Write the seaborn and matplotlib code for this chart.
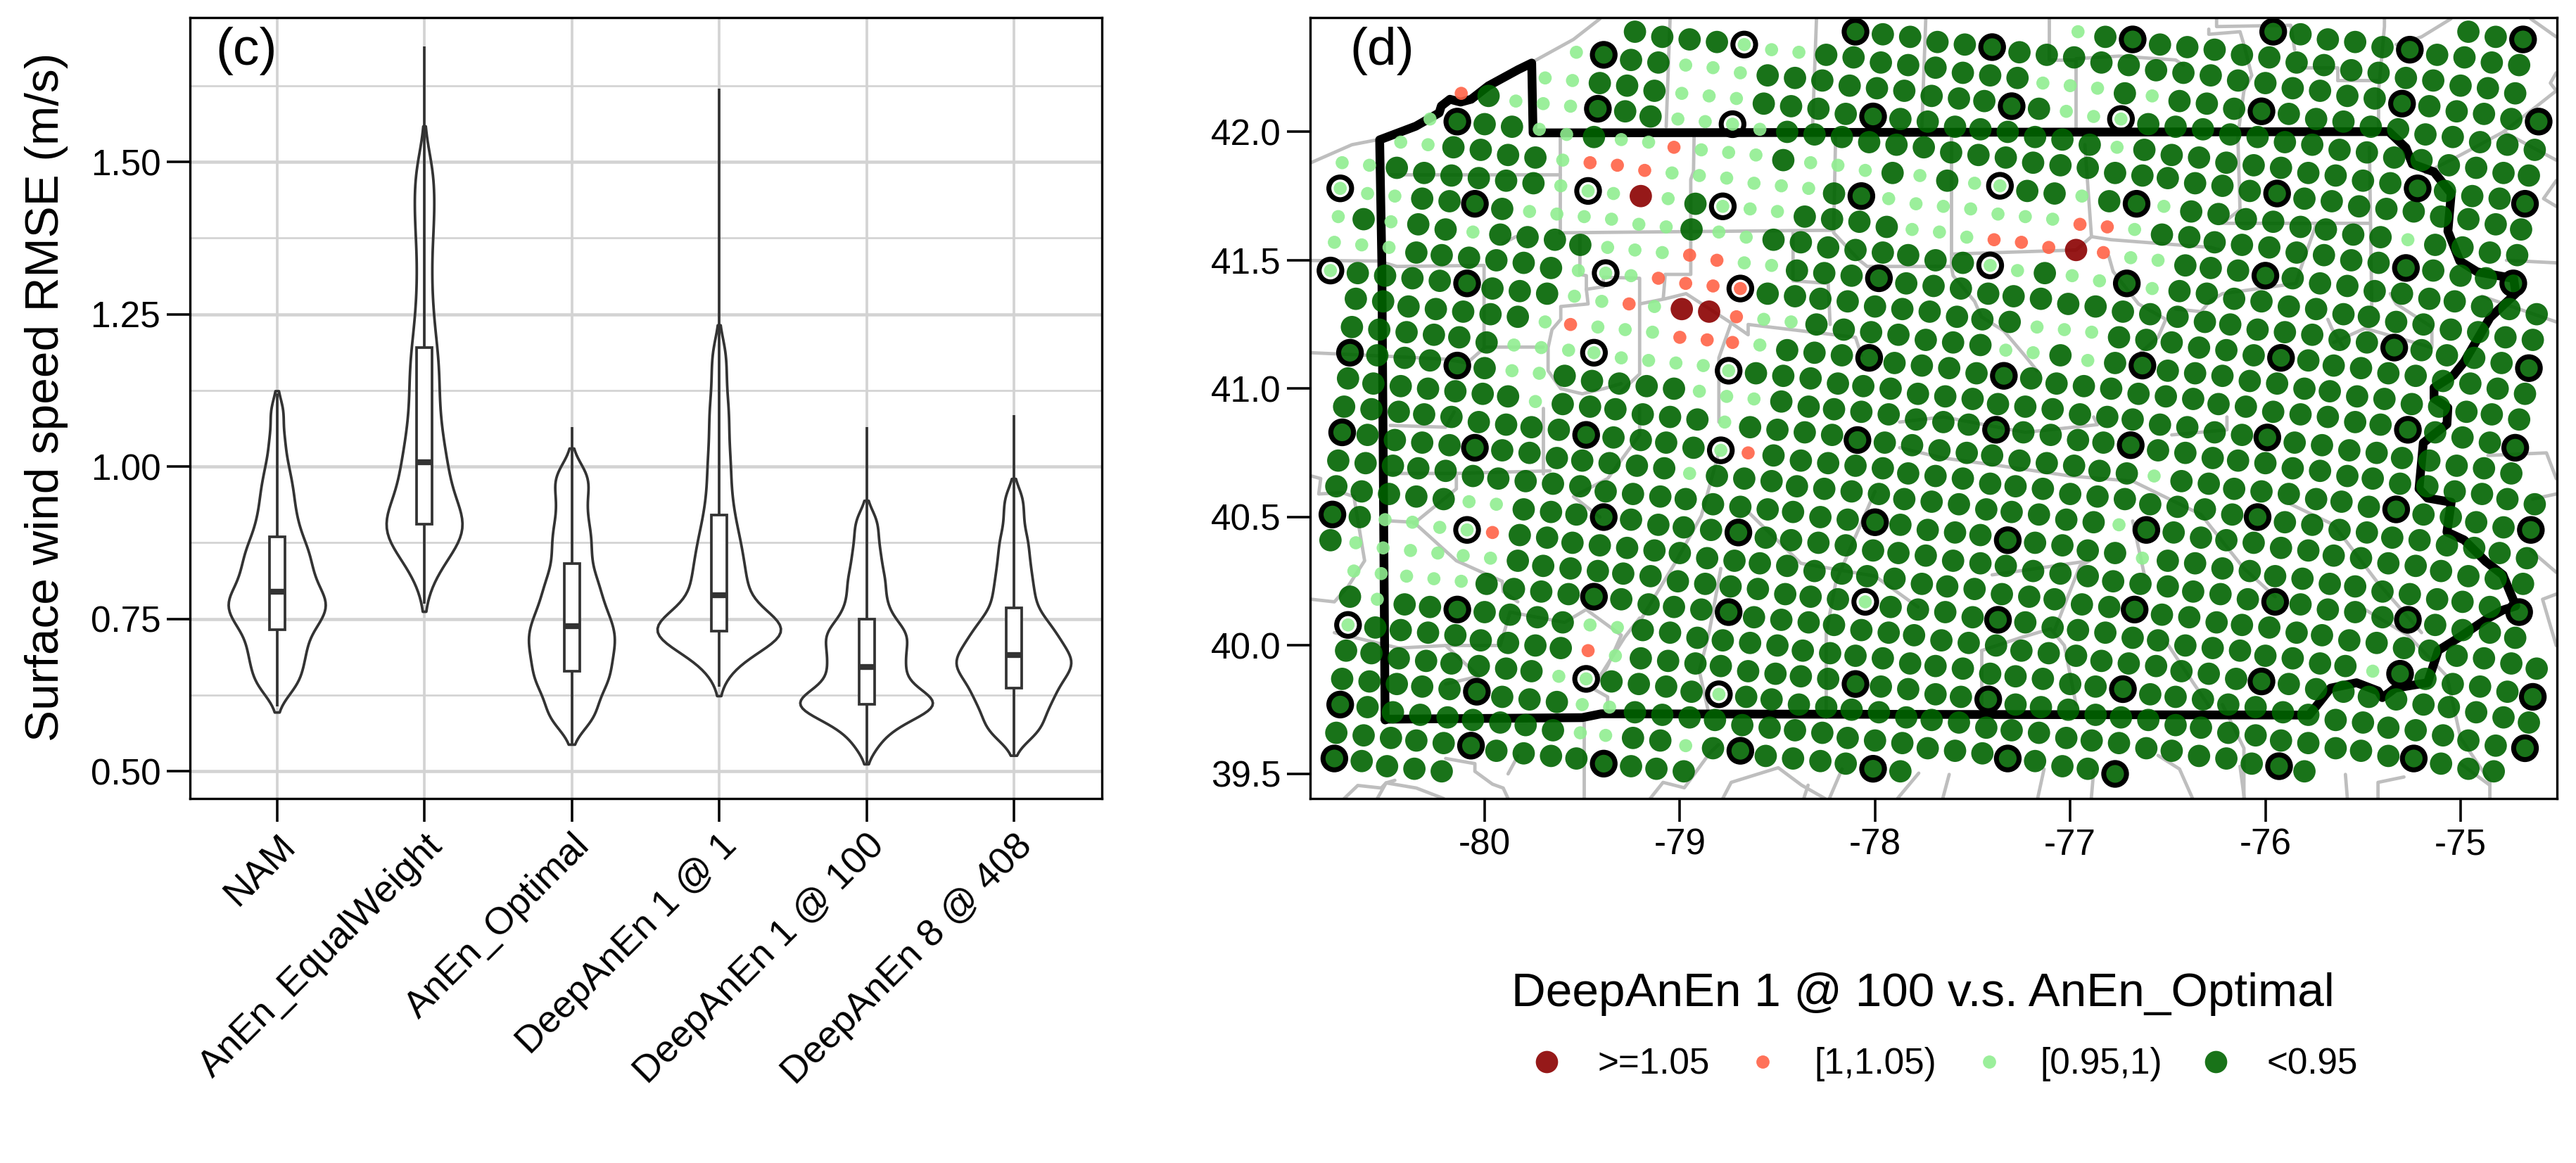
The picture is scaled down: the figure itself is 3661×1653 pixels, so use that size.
"""Wind speed RMSE violins (c) and map of the RMSE ratio over Pennsylvania (d)."""

import matplotlib
matplotlib.use("Agg")
import matplotlib.pyplot as plt
from matplotlib.lines import Line2D
from matplotlib.ticker import FixedLocator
import pandas as pd
import seaborn as sns

sns.set_style("white")
plt.rcParams["font.family"] = ["Liberation Sans", "DejaVu Sans"]
plt.rcParams["axes.unicode_minus"] = False
plt.rcParams["text.color"] = "black"
plt.rcParams["axes.labelcolor"] = "black"
plt.rcParams["xtick.color"] = "black"
plt.rcParams["ytick.color"] = "black"

# panel (c): values, quartiles from the boxes
models = ["NAM", "AnEn_EqualWeight", "AnEn_Optimal", "DeepAnEn 1 @ 1", "DeepAnEn 1 @ 100", "DeepAnEn 8 @ 408"]
rmse_nam = [.63,.645,.655,.668,.68,.69,.70,.71,.72,.73,.74,.745,.75,.757,.765,.77,.775,.78,.785,.79,.80,.806,.815,.822,.83,.84,.848,.857,.866,.875,.888,.90,.915,.93,.948,.965,.985,1.01,1.045,1.09]
rmse_equal = [.82,.84,.855,.868,.877,.884,.89,.895,.90,.904,.908,.914,.922,.932,.943,.955,.967,.98,.99,1.0,1.015,1.03,1.045,1.06,1.08,1.10,1.12,1.14,1.16,1.18,1.20,1.23,1.26,1.30,1.34,1.38,1.41,1.44,1.47,1.50]
rmse_optimal = [.578,.585,.597,.61,.622,.633,.642,.65,.656,.662,.672,.68,.687,.694,.701,.708,.715,.722,.728,.734,.742,.75,.757,.765,.775,.785,.795,.805,.816,.828,.845,.86,.875,.89,.905,.925,.945,.965,.98,.995]
rmse_deep1 = [.665,.685,.695,.703,.71,.715,.72,.724,.727,.729,.731,.734,.737,.74,.744,.749,.755,.763,.772,.783,.795,.805,.815,.825,.838,.85,.862,.875,.89,.905,.925,.945,.97,.995,1.02,1.05,1.08,1.11,1.15,1.19]
rmse_deep100 = [.54,.562,.573,.582,.589,.595,.60,.604,.607,.609,.612,.616,.62,.625,.63,.636,.643,.651,.66,.667,.675,.682,.69,.698,.706,.713,.72,.727,.733,.74,.752,.765,.778,.795,.81,.825,.845,.865,.89,.915]
rmse_deep408 = [.555,.565,.575,.585,.595,.605,.613,.62,.627,.634,.642,.648,.654,.66,.665,.67,.675,.68,.684,.687,.694,.70,.706,.712,.718,.725,.732,.74,.748,.757,.772,.785,.80,.815,.832,.85,.87,.89,.92,.95]
rmse_lowest = [.606, .775, .543, .639, .511, .524]
rmse_highest = [1.12, 1.69, 1.065, 1.62, 1.065, 1.085]

# panel (d): one row of grid points per block, g <0.95, p [0.95,1), o [1,1.05), r >=1.05
# upper case letters carry the black ring
lon_00 = [-74.96,-74.82,-74.68]
lat_00 = [42.39,42.37,42.36]
cls_00 = "ggG"
lon_01 = [-75.96,-75.82,-75.68,-75.54,-75.40,-75.26,-75.12,-74.98,-74.84,-74.70]
lat_01 = [42.39,42.38,42.36,42.35,42.33,42.32,42.30,42.29,42.27,42.26]
cls_01 = "GggggGgggg"
lon_02 = [-76.96,-76.82,-76.68,-76.54,-76.40,-76.26,-76.12,-75.98,-75.84,-75.70,-75.56,-75.42,-75.28,-75.14,-75.00,-74.86,-74.72]
lat_02 = [42.39,42.37,42.36,42.34,42.33,42.32,42.30,42.29,42.27,42.26,42.24,42.23,42.21,42.20,42.18,42.17,42.15]
cls_02 = "pgG" + "g" * 14
lon_03 = [-78.10,-77.96,-77.82,-77.68,-77.54,-77.40,-77.26,-77.12,-76.98,-76.84,-76.70,-76.56,-76.42,-76.28,-76.14,-76.00,-75.86,-75.72,-75.58,-75.44,-75.30,-75.16,-75.02,-74.88,-74.74,-74.60]
lat_03 = [42.39,42.38,42.37,42.35,42.34,42.33,42.31,42.30,42.29,42.27,42.26,42.24,42.23,42.22,42.20,42.19,42.17,42.16,42.14,42.13,42.11,42.10,42.08,42.07,42.05,42.04]
cls_03 = "GggggG" + "g" * 14 + "G" + "gggg" + "G"
lon_04 = [-79.23,-79.09,-78.95,-78.81,-78.67,-78.53,-78.39,-78.25,-78.11,-77.97,-77.83,-77.69,-77.55,-77.41,-77.27,-77.14,-77.00,-76.86,-76.72,-76.58,-76.44,-76.30,-76.16,-76.02,-75.88,-75.74,-75.60,-75.46,-75.32,-75.18,-75.04,-74.90,-74.76,-74.62]
lat_04 = [42.39,42.37,42.36,42.35,42.34,42.32,42.31,42.30,42.29,42.27,42.26,42.25,42.23,42.22,42.21,42.19,42.18,42.17,42.15,42.14,42.12,42.11,42.09,42.08,42.07,42.05,42.04,42.02,42.01,41.99,41.98,41.96,41.95,41.93]
cls_04 = "gggg" + "Ppp" + "g" * 8 + "ppp" + "g" + "p" + "ggg" + "G" + "g" * 10
lon_05 = [-79.53,-79.39,-79.25,-79.11,-78.97,-78.83,-78.69,-78.55,-78.41,-78.27,-78.13,-77.99,-77.85,-77.71,-77.57,-77.44,-77.30,-77.16,-77.02,-76.88,-76.74,-76.60,-76.46,-76.32,-76.18,-76.04,-75.90,-75.76,-75.62,-75.48,-75.34,-75.20,-75.06,-74.92,-74.78,-74.65]
lat_05 = [42.31,42.30,42.28,42.27,42.26,42.25,42.23,42.22,42.21,42.20,42.18,42.17,42.16,42.14,42.13,42.12,42.10,42.09,42.08,42.06,42.05,42.03,42.02,42.01,41.99,41.98,41.96,41.95,41.93,41.92,41.90,41.89,41.87,41.86,41.84,41.83]
cls_05 = "pGgg" + "ppp" + "g" * 9 + "G" + "g" + "pp" + "P" + "g" * 15
lon_06 = [-79.69,-79.55,-79.41,-79.27,-79.13,-78.99,-78.85,-78.71,-78.57,-78.43,-78.29,-78.15,-78.01,-77.87,-77.73,-77.59,-77.46,-77.32,-77.18,-77.04,-76.90,-76.76,-76.62,-76.48,-76.34,-76.20,-76.06,-75.92,-75.78,-75.64,-75.50,-75.36,-75.22,-75.08,-74.94,-74.80,-74.67]
lat_06 = [42.21,42.20,42.19,42.18,42.16,42.15,42.14,42.13,42.11,42.10,42.09,42.07,42.06,42.05,42.04,42.02,42.01,42.00,41.98,41.97,41.95,41.94,41.93,41.91,41.90,41.88,41.87,41.86,41.84,41.83,41.81,41.80,41.78,41.77,41.75,41.74,41.72]
cls_06 = "pp" + "ggg" + "ppp" + "gggg" + "G" + "g" * 8 + "p" + "g" * 10 + "G" + "ggg" + "G"
lon_07 = [-80.12,-79.98,-79.84,-79.70,-79.56,-79.42,-79.28,-79.15,-79.01,-78.87,-78.73,-78.59,-78.45,-78.31,-78.17,-78.03,-77.89,-77.75,-77.61,-77.47,-77.33,-77.19,-77.05,-76.91,-76.77,-76.63,-76.50,-76.36,-76.22,-76.08,-75.94,-75.80,-75.66,-75.52,-75.38,-75.24,-75.10,-74.96,-74.82,-74.69]
lat_07 = [42.15,42.14,42.12,42.11,42.10,42.09,42.08,42.06,42.05,42.04,42.03,42.01,42.00,41.99,41.98,41.96,41.95,41.94,41.92,41.91,41.90,41.88,41.87,41.86,41.84,41.83,41.82,41.80,41.79,41.77,41.76,41.74,41.73,41.71,41.70,41.69,41.67,41.66,41.64,41.62]
cls_07 = "ogppp" + "Ggg" + "ppPp" + "g" * 18 + "G" + "g" * 9
lon_08 = [-80.28,-80.14,-80.00,-79.86,-79.72,-79.58,-79.44,-79.30,-79.16,-79.03,-78.89,-78.75,-78.61,-78.47,-78.33,-78.19,-78.05,-77.91,-77.77,-77.63,-77.49,-77.36,-77.22,-77.08,-76.94,-76.80,-76.66,-76.52,-76.38,-76.24,-76.10,-75.96,-75.82,-75.69,-75.55,-75.41,-75.27,-75.13,-74.99,-74.85,-74.71]
lat_08 = [42.05,42.04,42.03,42.02,42.01,41.99,41.98,41.97,41.96,41.94,41.93,41.92,41.91,41.89,41.88,41.87,41.85,41.84,41.83,41.81,41.80,41.79,41.77,41.76,41.75,41.73,41.72,41.71,41.69,41.68,41.66,41.65,41.63,41.62,41.60,41.59,41.58,41.56,41.55,41.53,41.52]
cls_08 = "pGgg" + "ppg" + "ppo" + "ppp" + "g" + "ppp" + "g" + "p" + "g" + "pP" + "gg" + "p" + "g" + "G" + "p" + "g" * 8 + "p" + "gggg"
lon_09 = [-80.43,-80.29,-80.16,-80.02,-79.88,-79.74,-79.60,-79.46,-79.32,-79.18,-79.04,-78.90,-78.76,-78.62,-78.48,-78.34,-78.21,-78.07,-77.93,-77.79,-77.65,-77.51,-77.37,-77.23,-77.09,-76.95,-76.81,-76.67,-76.53,-76.39,-76.26,-76.12,-75.98,-75.84,-75.70,-75.56,-75.42,-75.28,-75.14,-75.00,-74.87,-74.73]
lat_09 = [41.96,41.95,41.94,41.93,41.91,41.90,41.89,41.88,41.87,41.85,41.84,41.83,41.82,41.80,41.79,41.78,41.76,41.75,41.74,41.72,41.71,41.70,41.68,41.67,41.66,41.64,41.63,41.62,41.60,41.59,41.57,41.56,41.55,41.53,41.52,41.50,41.49,41.47,41.46,41.44,41.43,41.41]
cls_09 = "pp" + "gggg" + "p" + "ooo" + "p" * 6 + "gG" + "p" * 7 + "oo" + "p" + "g" * 9 + "G" + "ggg" + "G"
lon_10 = [-80.73,-80.59,-80.45,-80.31,-80.17,-80.03,-79.89,-79.75,-79.61,-79.47,-79.34,-79.20,-79.06,-78.92,-78.78,-78.64,-78.50,-78.36,-78.22,-78.08,-77.94,-77.81,-77.67,-77.53,-77.39,-77.25,-77.11,-76.97,-76.83,-76.69,-76.55,-76.41,-76.28,-76.14,-76.00,-75.86,-75.72,-75.58,-75.44,-75.30,-75.16,-75.03,-74.89,-74.75,-74.61]
lat_10 = [41.88,41.87,41.86,41.84,41.83,41.82,41.81,41.80,41.79,41.77,41.76,41.75,41.74,41.72,41.71,41.70,41.69,41.67,41.66,41.65,41.63,41.62,41.61,41.59,41.58,41.57,41.55,41.54,41.53,41.51,41.50,41.48,41.47,41.46,41.44,41.43,41.41,41.40,41.38,41.37,41.35,41.34,41.32,41.31,41.29]
cls_10 = "pp" + "g" * 6 + "pPp" + "r" + "p" + "g" + "Ppp" + "gggg" + "ppp" + "ooo" + "r" + "o" + "pp" + "ggg" + "G" + "g" * 10
lon_11 = [-80.74,-80.60,-80.46,-80.32,-80.18,-80.05,-79.91,-79.77,-79.63,-79.49,-79.35,-79.21,-79.07,-78.94,-78.80,-78.66,-78.52,-78.38,-78.24,-78.10,-77.96,-77.83,-77.69,-77.55,-77.41,-77.27,-77.13,-76.99,-76.85,-76.71,-76.58,-76.44,-76.30,-76.16,-76.02,-75.88,-75.74,-75.60,-75.47,-75.33,-75.19,-75.05,-74.91,-74.77,-74.63]
lat_11 = [41.78,41.76,41.75,41.74,41.73,41.72,41.70,41.69,41.68,41.67,41.66,41.64,41.63,41.62,41.61,41.59,41.58,41.57,41.55,41.54,41.53,41.52,41.50,41.49,41.48,41.46,41.45,41.44,41.42,41.41,41.39,41.38,41.37,41.35,41.34,41.32,41.31,41.29,41.28,41.26,41.25,41.23,41.22,41.20,41.19]
cls_11 = "Ppp" + "gg" + "G" + "g" + "p" * 6 + "g" + "pp" + "g" * 8 + "Pp" + "g" + "pp" + "G" + "p" + "g" * 14
lon_12 = [-80.75,-80.62,-80.48,-80.34,-80.20,-80.06,-79.92,-79.78,-79.64,-79.51,-79.37,-79.23,-79.09,-78.95,-78.81,-78.67,-78.53,-78.40,-78.26,-78.12,-77.98,-77.84,-77.70,-77.56,-77.42,-77.29,-77.15,-77.01,-76.87,-76.73,-76.59,-76.45,-76.31,-76.18,-76.04,-75.90,-75.76,-75.62,-75.48,-75.34,-75.20,-75.07,-74.93,-74.79,-74.65]
lat_12 = [41.67,41.66,41.65,41.64,41.62,41.61,41.60,41.59,41.58,41.56,41.55,41.54,41.53,41.52,41.50,41.49,41.48,41.46,41.45,41.44,41.43,41.41,41.40,41.39,41.37,41.36,41.35,41.33,41.32,41.30,41.29,41.28,41.26,41.25,41.23,41.22,41.21,41.19,41.18,41.16,41.15,41.13,41.12,41.10,41.08]
cls_12 = "pgp" + "gg" + "p" + "gggg" + "ppp" + "oo" + "pp" + "ggg" + "G" + "g" * 18 + "G" + "gggg" + "G"
lon_13 = [-80.77,-80.63,-80.49,-80.35,-80.22,-80.08,-79.94,-79.80,-79.66,-79.52,-79.38,-79.25,-79.11,-78.97,-78.83,-78.69,-78.55,-78.41,-78.28,-78.14,-78.00,-77.86,-77.72,-77.58,-77.45,-77.31,-77.17,-77.03,-76.89,-76.75,-76.61,-76.48,-76.34,-76.20,-76.06,-75.92,-75.78,-75.65,-75.51,-75.37,-75.23,-75.09,-74.95,-74.81,-74.67]
lat_13 = [41.57,41.56,41.55,41.53,41.52,41.51,41.50,41.49,41.47,41.46,41.45,41.44,41.43,41.41,41.40,41.39,41.37,41.36,41.35,41.34,41.32,41.31,41.30,41.28,41.27,41.26,41.24,41.23,41.22,41.20,41.19,41.18,41.16,41.15,41.13,41.12,41.11,41.09,41.08,41.06,41.05,41.03,41.02,41.00,40.98]
cls_13 = "ppp" + "g" * 6 + "pPp" + "ooo" + "O" + "g" * 10 + "ppp" + "g" * 6 + "G" + "g" * 9
lon_14 = [-80.79,-80.65,-80.51,-80.37,-80.23,-80.09,-79.96,-79.82,-79.68,-79.54,-79.40,-79.26,-79.13,-78.99,-78.85,-78.71,-78.57,-78.43,-78.30,-78.16,-78.02,-77.88,-77.74,-77.60,-77.46,-77.33,-77.19,-77.05,-76.91,-76.77,-76.63,-76.50,-76.36,-76.22,-76.08,-75.94,-75.80,-75.67,-75.53,-75.39,-75.25,-75.11,-74.97,-74.84,-74.70]
lat_14 = [41.46,41.45,41.44,41.43,41.42,41.41,41.39,41.38,41.37,41.36,41.34,41.33,41.32,41.31,41.30,41.28,41.27,41.26,41.25,41.23,41.22,41.21,41.19,41.18,41.17,41.15,41.14,41.13,41.11,41.10,41.09,41.07,41.06,41.05,41.03,41.02,41.00,40.99,40.97,40.96,40.94,40.93,40.91,40.90,40.88]
cls_14 = "P" + "gggg" + "G" + "ggg" + "pp" + "o" + "p" + "rr" + "o" + "pp" + "g" * 7 + "pp" + "g" + "p" + "g" + "G" + "g" * 14
lon_15 = [-80.66,-80.52,-80.39,-80.25,-80.11,-79.97,-79.83,-79.69,-79.56,-79.42,-79.28,-79.14,-79.00,-78.86,-78.73,-78.59,-78.45,-78.31,-78.17,-78.03,-77.90,-77.76,-77.62,-77.48,-77.34,-77.20,-77.07,-76.93,-76.79,-76.65,-76.51,-76.37,-76.24,-76.10,-75.96,-75.82,-75.68,-75.54,-75.41,-75.27,-75.13,-74.99,-74.85,-74.72]
lat_15 = [41.35,41.34,41.32,41.31,41.30,41.29,41.28,41.26,41.25,41.24,41.23,41.22,41.20,41.19,41.18,41.17,41.15,41.14,41.13,41.12,41.10,41.09,41.08,41.06,41.05,41.04,41.02,41.01,41.00,40.98,40.97,40.96,40.94,40.93,40.91,40.90,40.89,40.87,40.86,40.84,40.83,40.81,40.79,40.77]
cls_15 = "g" * 7 + "p" + "o" + "ppp" + "ooo" + "p" + "ggg" + "G" + "gggg" + "G" + "g" * 14 + "G" + "ggg" + "G"
lon_16 = [-80.68,-80.54,-80.40,-80.26,-80.13,-79.99,-79.85,-79.71,-79.57,-79.44,-79.30,-79.16,-79.02,-78.88,-78.75,-78.61,-78.47,-78.33,-78.19,-78.06,-77.92,-77.78,-77.64,-77.50,-77.37,-77.23,-77.09,-76.95,-76.81,-76.68,-76.54,-76.40,-76.26,-76.12,-75.99,-75.85,-75.71,-75.57,-75.43,-75.30,-75.16,-75.02,-74.88,-74.74]
lat_16 = [41.24,41.23,41.22,41.21,41.20,41.18,41.17,41.16,41.15,41.14,41.12,41.11,41.10,41.09,41.07,41.06,41.05,41.04,41.02,41.01,41.00,40.98,40.97,40.96,40.94,40.93,40.92,40.90,40.89,40.88,40.86,40.85,40.83,40.82,40.81,40.79,40.78,40.76,40.75,40.73,40.72,40.70,40.69,40.67]
cls_16 = "g" * 6 + "ppp" + "P" + "pppp" + "P" + "g" * 19 + "G" + "g" * 9
lon_17 = [-80.69,-80.55,-80.41,-80.28,-80.14,-80.00,-79.86,-79.72,-79.59,-79.45,-79.31,-79.17,-79.03,-78.90,-78.76,-78.62,-78.48,-78.34,-78.21,-78.07,-77.93,-77.79,-77.65,-77.52,-77.38,-77.24,-77.10,-76.96,-76.83,-76.69,-76.55,-76.41,-76.27,-76.14,-76.00,-75.86,-75.72,-75.58,-75.45,-75.31,-75.17,-75.03,-74.89,-74.76,-74.62]
lat_17 = [41.14,41.13,41.12,41.11,41.09,41.08,41.07,41.06,41.05,41.03,41.02,41.01,41.00,40.99,40.97,40.96,40.95,40.93,40.92,40.91,40.90,40.88,40.87,40.86,40.84,40.83,40.82,40.80,40.79,40.78,40.76,40.75,40.73,40.72,40.71,40.69,40.68,40.66,40.65,40.63,40.62,40.60,40.59,40.57,40.55]
cls_17 = "Gggg" + "G" + "g" + "pp" + "ggggg" + "ppp" + "g" * 8 + "G" + "gggg" + "G" + "g" * 15
lon_18 = [-80.70,-80.57,-80.43,-80.29,-80.15,-80.01,-79.88,-79.74,-79.60,-79.46,-79.33,-79.19,-79.05,-78.91,-78.77,-78.64,-78.50,-78.36,-78.22,-78.09,-77.95,-77.81,-77.67,-77.53,-77.40,-77.26,-77.12,-76.98,-76.85,-76.71,-76.57,-76.43,-76.29,-76.16,-76.02,-75.88,-75.74,-75.61,-75.47,-75.33,-75.19,-75.05,-74.92,-74.78,-74.64]
lat_18 = [41.04,41.02,41.01,41.00,40.99,40.98,40.97,40.95,40.94,40.93,40.92,40.90,40.89,40.88,40.87,40.85,40.84,40.83,40.82,40.80,40.79,40.78,40.76,40.75,40.74,40.72,40.71,40.70,40.68,40.67,40.66,40.64,40.63,40.61,40.60,40.59,40.57,40.56,40.54,40.53,40.51,40.50,40.48,40.46,40.45]
cls_18 = "g" * 7 + "p" + "g" * 6 + "p" + "gggg" + "G" + "g" * 10 + "p" + "g" * 8 + "G" + "gggg" + "G"
lon_19 = [-80.72,-80.58,-80.44,-80.31,-80.17,-80.03,-79.89,-79.76,-79.62,-79.48,-79.34,-79.20,-79.07,-78.93,-78.79,-78.65,-78.52,-78.38,-78.24,-78.10,-77.96,-77.83,-77.69,-77.55,-77.41,-77.28,-77.14,-77.00,-76.86,-76.72,-76.59,-76.45,-76.31,-76.17,-76.04,-75.90,-75.76,-75.62,-75.48,-75.35,-75.21,-75.07,-74.93,-74.80,-74.66]
lat_19 = [40.93,40.92,40.91,40.90,40.89,40.87,40.86,40.85,40.84,40.82,40.81,40.80,40.79,40.77,40.76,40.75,40.74,40.72,40.71,40.70,40.69,40.67,40.66,40.65,40.63,40.62,40.61,40.59,40.58,40.57,40.55,40.54,40.53,40.51,40.50,40.48,40.47,40.45,40.44,40.42,40.41,40.39,40.38,40.36,40.34]
cls_19 = "g" * 9 + "G" + "gggg" + "Po" + "g" * 18 + "G" + "g" * 10
lon_20 = [-80.73,-80.60,-80.46,-80.32,-80.18,-80.05,-79.91,-79.77,-79.63,-79.50,-79.36,-79.22,-79.08,-78.95,-78.81,-78.67,-78.53,-78.40,-78.26,-78.12,-77.98,-77.85,-77.71,-77.57,-77.43,-77.30,-77.16,-77.02,-76.88,-76.75,-76.61,-76.47,-76.33,-76.20,-76.06,-75.92,-75.78,-75.65,-75.51,-75.37,-75.23,-75.10,-74.96,-74.82,-74.68]
lat_20 = [40.83,40.82,40.80,40.79,40.78,40.77,40.76,40.75,40.73,40.72,40.71,40.70,40.69,40.67,40.66,40.65,40.64,40.62,40.61,40.60,40.59,40.57,40.56,40.55,40.53,40.52,40.51,40.49,40.48,40.47,40.45,40.44,40.42,40.41,40.40,40.38,40.37,40.35,40.34,40.32,40.31,40.29,40.27,40.26,40.24]
cls_20 = "G" + "gggg" + "G" + "g" * 7 + "p" + "g" * 15 + "p" + "G" + "g" * 14
lon_21 = [-80.75,-80.61,-80.47,-80.34,-80.20,-80.06,-79.93,-79.79,-79.65,-79.51,-79.38,-79.24,-79.10,-78.97,-78.83,-78.69,-78.55,-78.42,-78.28,-78.14,-78.00,-77.87,-77.73,-77.59,-77.46,-77.32,-77.18,-77.04,-76.91,-76.77,-76.63,-76.50,-76.36,-76.22,-76.08,-75.95,-75.81,-75.67,-75.54,-75.40,-75.26,-75.12,-74.99,-74.85,-74.70]
lat_21 = [40.72,40.71,40.70,40.69,40.68,40.66,40.65,40.64,40.63,40.62,40.60,40.59,40.58,40.57,40.55,40.54,40.53,40.52,40.50,40.49,40.48,40.47,40.45,40.44,40.43,40.41,40.40,40.39,40.37,40.36,40.34,40.33,40.32,40.30,40.29,40.27,40.26,40.24,40.23,40.21,40.20,40.18,40.17,40.15,40.13]
cls_21 = "g" * 20 + "G" + "gggg" + "G" + "gggg" + "p" + "g" * 13 + "G"
lon_22 = [-80.76,-80.63,-80.49,-80.35,-80.21,-80.08,-79.94,-79.80,-79.66,-79.53,-79.39,-79.25,-79.11,-78.98,-78.84,-78.70,-78.56,-78.43,-78.29,-78.15,-78.01,-77.88,-77.74,-77.60,-77.46,-77.33,-77.19,-77.05,-76.91,-76.78,-76.64,-76.50,-76.37,-76.23,-76.09,-75.95,-75.82,-75.68,-75.54,-75.40,-75.27,-75.13,-74.99,-74.85,-74.72]
lat_22 = [40.62,40.60,40.59,40.58,40.57,40.56,40.55,40.53,40.52,40.51,40.50,40.49,40.47,40.46,40.45,40.44,40.42,40.41,40.40,40.39,40.37,40.36,40.35,40.33,40.32,40.31,40.29,40.28,40.27,40.25,40.24,40.23,40.21,40.20,40.18,40.17,40.16,40.14,40.13,40.11,40.10,40.08,40.06,40.05,40.03]
cls_22 = "g" * 5 + "pp" + "ggg" + "G" + "gggg" + "G" + "g" * 19 + "G" + "gggg" + "G" + "gggg"
lon_23 = [-80.78,-80.64,-80.51,-80.37,-80.23,-80.09,-79.96,-79.82,-79.68,-79.55,-79.41,-79.27,-79.13,-79.00,-78.86,-78.72,-78.59,-78.45,-78.31,-78.17,-78.04,-77.90,-77.76,-77.63,-77.49,-77.35,-77.21,-77.08,-76.94,-76.80,-76.67,-76.53,-76.39,-76.25,-76.12,-75.98,-75.84,-75.71,-75.57,-75.43,-75.29,-75.16,-75.02,-74.88,-74.74,-74.61]
lat_23 = [40.51,40.50,40.49,40.48,40.46,40.45,40.44,40.43,40.42,40.40,40.39,40.38,40.37,40.36,40.34,40.33,40.32,40.31,40.29,40.28,40.27,40.26,40.24,40.23,40.22,40.20,40.19,40.18,40.16,40.15,40.14,40.12,40.11,40.09,40.08,40.07,40.05,40.04,40.02,40.01,39.99,39.98,39.96,39.95,39.93,39.91]
cls_23 = "Gg" + "ppp" + "P" + "o" + "g" * 23 + "G" + "g" * 15
lon_24 = [-80.79,-80.66,-80.52,-80.38,-80.24,-80.11,-79.97,-79.83,-79.70,-79.56,-79.42,-79.29,-79.15,-79.01,-78.87,-78.74,-78.60,-78.46,-78.33,-78.19,-78.05,-77.92,-77.78,-77.64,-77.50,-77.37,-77.23,-77.09,-76.96,-76.82,-76.68,-76.55,-76.41,-76.27,-76.13,-76.00,-75.86,-75.72,-75.59,-75.45,-75.31,-75.18,-75.04,-74.90,-74.76,-74.63]
lat_24 = [40.41,40.40,40.38,40.37,40.36,40.35,40.34,40.33,40.31,40.30,40.29,40.28,40.27,40.25,40.24,40.23,40.22,40.20,40.19,40.18,40.17,40.15,40.14,40.13,40.11,40.10,40.09,40.07,40.06,40.05,40.03,40.02,40.00,39.99,39.98,39.96,39.95,39.93,39.92,39.90,39.89,39.87,39.85,39.84,39.82,39.80]
cls_24 = "g" + "p" * 6 + "g" * 13 + "P" + "gggg" + "G" + "g" * 13 + "p" + "G" + "gggg" + "G"
lon_25 = [-80.67,-80.53,-80.40,-80.26,-80.12,-79.99,-79.85,-79.71,-79.57,-79.44,-79.30,-79.16,-79.03,-78.89,-78.75,-78.62,-78.48,-78.34,-78.21,-78.07,-77.93,-77.80,-77.66,-77.52,-77.38,-77.25,-77.11,-76.97,-76.84,-76.70,-76.56,-76.43,-76.29,-76.15,-76.02,-75.88,-75.74,-75.60,-75.47,-75.33,-75.19,-75.06,-74.92,-74.78,-74.65]
lat_25 = [40.29,40.28,40.27,40.26,40.25,40.24,40.22,40.21,40.20,40.19,40.18,40.16,40.15,40.14,40.13,40.11,40.10,40.09,40.08,40.06,40.05,40.04,40.02,40.01,40.00,39.98,39.97,39.96,39.94,39.93,39.92,39.90,39.89,39.87,39.86,39.85,39.83,39.82,39.80,39.79,39.77,39.76,39.74,39.72,39.70]
cls_25 = "ppppp" + "gggg" + "G" + "gggg" + "G" + "g" * 19 + "G" + "g" * 10
lon_26 = [-80.69,-80.55,-80.41,-80.28,-80.14,-80.00,-79.87,-79.73,-79.60,-79.46,-79.32,-79.19,-79.05,-78.91,-78.78,-78.64,-78.50,-78.37,-78.23,-78.10,-77.96,-77.82,-77.69,-77.55,-77.41,-77.28,-77.14,-77.00,-76.87,-76.73,-76.59,-76.46,-76.32,-76.19,-76.05,-75.91,-75.78,-75.64,-75.50,-75.37,-75.23,-75.09,-74.96,-74.82,-74.67]
lat_26 = [40.19,40.18,40.16,40.15,40.14,40.13,40.12,40.11,40.09,40.08,40.07,40.06,40.05,40.03,40.02,40.01,40.00,39.98,39.97,39.96,39.95,39.93,39.92,39.91,39.89,39.88,39.87,39.85,39.84,39.83,39.81,39.80,39.79,39.77,39.76,39.74,39.73,39.71,39.70,39.68,39.67,39.65,39.63,39.61,39.60]
cls_26 = "gp" + "gg" + "G" + "gggg" + "pp" + "g" * 18 + "G" + "g" * 14 + "G"
lon_27 = [-80.70,-80.56,-80.43,-80.29,-80.15,-80.02,-79.88,-79.74,-79.61,-79.47,-79.33,-79.20,-79.06,-78.92,-78.79,-78.65,-78.51,-78.38,-78.24,-78.10,-77.97,-77.83,-77.69,-77.56,-77.42,-77.28,-77.15,-77.01,-76.87,-76.74,-76.60,-76.46,-76.33,-76.19,-76.05,-75.92,-75.78,-75.64,-75.51,-75.37,-75.24,-75.10,-74.96,-74.83]
lat_27 = [40.08,40.07,40.06,40.05,40.04,40.02,40.01,40.00,39.99,39.98,39.96,39.95,39.94,39.93,39.92,39.90,39.89,39.88,39.87,39.85,39.84,39.83,39.81,39.80,39.79,39.77,39.76,39.75,39.73,39.72,39.71,39.69,39.68,39.66,39.65,39.63,39.62,39.60,39.59,39.57,39.56,39.54,39.52,39.51]
cls_27 = "P" + "g" * 8 + "op" + "g" * 8 + "G" + "gggg" + "G" + "g" * 15 + "G" + "ggg"
lon_28 = [-80.71,-80.58,-80.44,-80.30,-80.17,-80.03,-79.89,-79.76,-79.62,-79.48,-79.35,-79.21,-79.07,-78.94,-78.80,-78.66,-78.53,-78.39,-78.25,-78.12,-77.98,-77.84,-77.71,-77.57,-77.43,-77.30,-77.16,-77.02,-76.89,-76.75,-76.61,-76.48,-76.34,-76.20,-76.07,-75.93,-75.80]
lat_28 = [39.98,39.97,39.95,39.94,39.93,39.92,39.91,39.90,39.88,39.87,39.86,39.85,39.84,39.82,39.81,39.80,39.79,39.77,39.76,39.75,39.74,39.72,39.71,39.70,39.68,39.67,39.66,39.64,39.63,39.62,39.60,39.59,39.57,39.56,39.54,39.53,39.51]
cls_28 = "g" * 8 + "pP" + "gggg" + "P" + "g" * 20 + "Gg"
lon_29 = [-80.73,-80.59,-80.45,-80.32,-80.18,-80.04,-79.91,-79.77,-79.63,-79.50,-79.36,-79.23,-79.09,-78.95,-78.82,-78.68,-78.54,-78.41,-78.27,-78.14,-78.00,-77.86,-77.73,-77.59,-77.45,-77.32,-77.18,-77.04,-76.91,-76.77]
lat_29 = [39.87,39.86,39.85,39.84,39.83,39.82,39.80,39.79,39.78,39.77,39.76,39.74,39.73,39.72,39.71,39.69,39.68,39.67,39.66,39.64,39.63,39.62,39.60,39.59,39.58,39.56,39.55,39.53,39.52,39.50]
cls_29 = "ggggg" + "G" + "ggg" + "pp" + "g" * 14 + "G" + "ggg" + "G"
lon_30 = [-80.74,-80.60,-80.47,-80.33,-80.19,-80.06,-79.92,-79.79,-79.65,-79.51,-79.38,-79.24,-79.10,-78.97,-78.83,-78.69,-78.56,-78.42,-78.28,-78.15,-78.01,-77.87]
lat_30 = [39.77,39.76,39.74,39.73,39.72,39.71,39.70,39.69,39.67,39.66,39.65,39.64,39.63,39.61,39.60,39.59,39.57,39.56,39.55,39.54,39.52,39.51]
cls_30 = "G" + "g" * 8 + "pp" + "gg" + "p" + "g" + "G" + "gggg" + "G" + "g"
lon_31 = [-80.76,-80.62,-80.48,-80.35,-80.21,-80.07,-79.94,-79.80,-79.66,-79.53,-79.39,-79.25,-79.12,-78.98]
lat_31 = [39.66,39.65,39.64,39.63,39.62,39.61,39.59,39.58,39.57,39.56,39.54,39.53,39.52,39.51]
cls_31 = "gggggGggggGggg"
lon_32 = [-80.77,-80.63,-80.50,-80.36,-80.22]
lat_32 = [39.56,39.55,39.53,39.52,39.51]
cls_32 = "Ggggg"

grid_lons = [lon_00, lon_01, lon_02, lon_03, lon_04, lon_05, lon_06, lon_07, lon_08, lon_09, lon_10,
             lon_11, lon_12, lon_13, lon_14, lon_15, lon_16, lon_17, lon_18, lon_19, lon_20, lon_21,
             lon_22, lon_23, lon_24, lon_25, lon_26, lon_27, lon_28, lon_29, lon_30, lon_31, lon_32]
grid_lats = [lat_00, lat_01, lat_02, lat_03, lat_04, lat_05, lat_06, lat_07, lat_08, lat_09, lat_10,
             lat_11, lat_12, lat_13, lat_14, lat_15, lat_16, lat_17, lat_18, lat_19, lat_20, lat_21,
             lat_22, lat_23, lat_24, lat_25, lat_26, lat_27, lat_28, lat_29, lat_30, lat_31, lat_32]
grid_cls = [cls_00, cls_01, cls_02, cls_03, cls_04, cls_05, cls_06, cls_07, cls_08, cls_09, cls_10,
            cls_11, cls_12, cls_13, cls_14, cls_15, cls_16, cls_17, cls_18, cls_19, cls_20, cls_21,
            cls_22, cls_23, cls_24, cls_25, cls_26, cls_27, cls_28, cls_29, cls_30, cls_31, cls_32]

ratio_labels = [">=1.05", "[1,1.05)", "[0.95,1)", "<0.95"]

# Pennsylvania outline, (lon, lat)
state_border = [(-80.51,39.71),(-80.527,41.50),(-80.538,41.969),(-80.353,42.022),(-80.233,42.074),(-80.222,42.101),
                (-80.178,42.127),(-80.123,42.116),(-80.069,42.127),(-79.981,42.179),(-79.829,42.242),(-79.759,42.268),
                (-79.752,41.996),(-75.368,42.001),(-75.28,41.938),(-75.247,41.875),(-75.136,41.844),(-75.048,41.76),
                (-75.065,41.613),(-75.004,41.497),(-74.915,41.455),(-74.728,41.429),(-74.717,41.371),(-74.849,41.277),
                (-74.982,41.104),(-75.037,41.052),(-75.136,41.004),(-75.136,40.962),(-75.065,40.926),(-75.07,40.862),
                (-75.191,40.789),(-75.213,40.61),(-75.169,40.574),(-75.048,40.558),(-75.07,40.442),(-74.982,40.411),
                (-74.871,40.327),(-74.783,40.275),(-74.717,40.154),(-74.783,40.138),(-74.871,40.101),(-75.004,40.033),
                (-75.114,39.981),(-75.169,39.855),(-75.335,39.834),(-75.401,39.797),(-75.423,39.823),(-75.533,39.855),
                (-75.666,39.834),(-75.721,39.781),(-75.776,39.729),(-79.403,39.734),(-79.501,39.719),(-80.51,39.713)]

# county lines, roughly traced
county_lines = [
    [(-80.89,41.88),(-80.77,41.92),(-80.68,41.95),(-80.545,41.97)],
    [(-79.76,42.27),(-79.545,42.36),(-79.41,42.44)],
    [(-79.05,42.44),(-79.07,42.02)], [(-78.30,42.44),(-78.32,42.02)], [(-77.74,42.44),(-77.76,42.02)],
    [(-77.11,42.44),(-77.11,42.28),(-76.97,42.28),(-76.97,42.0)],
    [(-76.97,42.285),(-76.75,42.295),(-76.46,42.28),(-76.42,42.26)],
    [(-76.25,42.44),(-76.25,42.41),(-75.87,42.415),(-75.85,42.32)],
    [(-76.29,42.40),(-76.29,42.38),(-76.13,42.39),(-76.11,42.34),(-76.07,42.22),(-76.11,42.16),(-76.14,41.99)],
    [(-75.39,42.44),(-75.39,42.41),(-75.42,42.16),(-75.42,41.99)],
    [(-75.63,42.20),(-75.42,42.20)], [(-75.63,42.20),(-75.63,42.25),(-75.81,42.25)],
    [(-75.05,42.44),(-75.2,42.37),(-75.33,42.34)], [(-74.64,42.44),(-74.51,42.37)],
    [(-74.51,42.23),(-74.54,42.19),(-74.51,42.16),(-74.61,42.10),(-74.78,42.0),(-75.0,41.91),(-75.18,41.84)],
    [(-74.78,42.0),(-74.51,41.89)], [(-74.51,41.81),(-74.575,41.74),(-74.51,41.71)],
    [(-79.615,41.985),(-79.615,41.607)], [(-80.485,41.833),(-79.615,41.833)], [(-79.615,41.607),(-78.21,41.617)],
    [(-78.927,41.985),(-78.93,41.845),(-78.944,41.815),(-78.944,41.445),(-79.075,41.445),(-79.085,41.35)],
    [(-78.202,41.985),(-78.212,41.61)],
    [(-80.888,41.499),(-80.545,41.497),(-80.45,41.476),(-80.003,41.48),(-80.003,41.162),(-79.7,41.162)],
    [(-79.905,41.566),(-79.84,41.592)],
    [(-79.512,41.607),(-79.512,41.445),(-79.479,41.44),(-79.479,41.387),(-79.392,41.397),(-79.392,41.434),(-79.206,41.43),(-79.206,41.057),(-79.30,40.99)],
    [(-79.479,41.387),(-79.47,41.33),(-79.61,41.32),(-79.61,41.27),(-79.655,41.23),(-79.675,41.16),(-79.675,41.07),(-79.61,41.0),(-79.5,40.98),(-79.39,41.0),(-79.30,41.02)],
    [(-80.888,41.14),(-80.6,41.13),(-80.2,41.115),(-80.09,41.10),(-80.0,41.16)],
    [(-79.206,41.33),(-79.075,41.35),(-78.968,41.37),(-78.737,41.256),(-78.80,41.12),(-78.80,40.87)],
    [(-78.737,41.256),(-78.65,41.21),(-78.65,41.25),(-78.32,41.22),(-78.10,41.2),(-78.07,41.13)],
    [(-78.212,41.607),(-78.08,41.50),(-78.04,41.476),(-77.69,41.476)],
    [(-78.42,41.607),(-78.42,41.42),(-78.24,41.41),(-78.23,41.25)],
    [(-77.609,41.985),(-77.609,41.476)],
    [(-76.925,41.95),(-76.891,41.592),(-76.79,41.58),(-76.28,41.55),(-76.23,41.54)],
    [(-77.609,41.524),(-76.97,41.54),(-76.891,41.592)],
    [(-77.693,41.476),(-77.609,41.476),(-77.6,41.44),(-77.49,41.34),(-77.455,41.28),(-77.34,41.225),(-77.234,41.13),(-77.17,41.07)],
    [(-76.803,41.518),(-76.78,41.456),(-76.65,41.33),(-76.51,41.27),(-76.55,41.20),(-76.64,41.14)],
    [(-76.141,41.98),(-76.13,41.697),(-76.22,41.644),(-75.467,41.644)],
    [(-75.467,41.94),(-75.455,41.32)],
    [(-75.743,41.634),(-75.82,41.466),(-75.843,41.41),(-76.22,41.37),(-76.285,41.34),(-76.33,41.30),(-76.46,41.31)],
    [(-74.89,41.36),(-74.51,41.26)], [(-74.765,41.50),(-74.51,41.49)],
    [(-75.36,41.37),(-75.33,41.33),(-75.147,41.24),(-75.147,41.16),(-75.49,41.235),(-75.65,41.18)],
    [(-75.68,41.27),(-75.66,41.235),(-75.6,41.16)],
    [(-80.888,40.66),(-80.84,40.65),(-80.85,40.59),(-80.73,40.595),(-80.67,40.58),(-80.615,40.33),(-80.70,40.23),(-80.77,40.17),(-80.888,40.18)],
    [(-80.484,40.485),(-80.363,40.48),(-80.145,40.33),(-79.91,40.25),(-79.905,40.21),(-79.83,40.17)],
    [(-80.363,40.475),(-80.145,40.61),(-80.145,40.67),(-80.505,40.67)], [(-80.145,40.67),(-79.665,40.68)],
    [(-80.484,40.857),(-80.2,40.85),(-80.156,40.91)], [(-79.70,40.925),(-79.70,40.67)],
    [(-79.206,40.925),(-79.206,40.82),(-79.37,40.65),(-79.545,40.58),(-79.41,40.50)],
    [(-80.77,40.05),(-80.44,39.99),(-80.2,40.0),(-79.92,40.0),(-79.87,40.13),(-79.59,40.09),(-79.48,40.14),(-79.30,40.04),(-79.37,39.92),(-79.44,39.83),(-79.37,39.8),(-79.37,39.73)],
    [(-79.49,39.73),(-79.49,39.404)], [(-80.20,40.0),(-80.03,39.88),(-80.2,39.85)],
    [(-80.72,39.404),(-80.65,39.455),(-80.53,39.445),(-80.505,39.465),(-80.35,39.445),(-80.21,39.404)],
    [(-80.55,39.404),(-80.505,39.465),(-80.46,39.475)],
    [(-80.2,39.56),(-80.05,39.54),(-80.05,39.51),(-79.96,39.46),(-79.905,39.445),(-79.88,39.404)],
    [(-79.88,39.50),(-79.83,39.57)],
    [(-79.152,39.404),(-79.086,39.467),(-78.977,39.446),(-78.846,39.582),(-78.802,39.614)],
    [(-78.78,39.404),(-78.737,39.467),(-78.496,39.524),(-78.376,39.456),(-78.256,39.404)],
    [(-78.365,39.404),(-78.343,39.456)], [(-78.234,39.404),(-78.169,39.519)], [(-77.885,39.404),(-77.776,39.503)],
    [(-79.206,40.107),(-79.282,40.033),(-79.413,39.876)],
    [(-78.802,40.747),(-78.89,40.505),(-79.02,40.327),(-79.195,40.107)],
    [(-78.79,40.3),(-78.85,40.05),(-78.9,39.9),(-78.85,39.73)],
    [(-78.0,40.6),(-78.2,40.25),(-78.25,40.05),(-78.25,39.72)],
    [(-78.65,40.52),(-78.38,40.32),(-78.0,40.27),(-77.78,40.15)],
    [(-77.874,40.77),(-77.65,40.73),(-77.36,40.70),(-77.0,40.66),(-76.68,40.64),(-76.33,40.51),(-76.11,40.30),(-75.95,40.19)],
    [(-77.874,40.87),(-77.65,40.89),(-77.23,40.83),(-76.86,40.86),(-76.88,40.89)],
    [(-76.197,40.89),(-76.197,40.84),(-76.48,40.82)], [(-76.68,40.485),(-76.62,40.275)],
    [(-77.455,39.98),(-77.455,39.77)], [(-77.455,39.98),(-77.256,40.03),(-77.1,40.065),(-77.03,40.0),(-76.97,39.77)],
    [(-77.08,40.06),(-76.95,40.31),(-76.90,40.33),(-77.40,40.275)],
    [(-76.505,40.01),(-76.37,39.855),(-76.285,39.76)], [(-76.22,39.77),(-76.11,39.6),(-76.11,39.404)],
    [(-75.49,40.14),(-75.27,40.04),(-75.07,39.88),(-75.0,39.64),(-74.85,39.47),(-74.85,39.404)],
    [(-75.87,40.55),(-75.65,40.47),(-75.43,40.25),(-75.2,40.05)],
    [(-74.86,40.74),(-74.56,40.75),(-74.51,40.65)], [(-74.51,40.59),(-74.63,40.57)],
    [(-74.64,40.37),(-74.51,40.285)], [(-74.51,40.2),(-74.58,40.18),(-74.51,40.0)],
    [(-77.653,39.404),(-77.62,39.498)], [(-77.167,39.404),(-77.134,39.519)], [(-76.892,39.404),(-76.88,39.51)],
    [(-76.373,39.404),(-76.44,39.519),(-76.55,39.572)], [(-76.108,39.404),(-76.13,39.53)],
    [(-75.58,39.404),(-75.59,39.498)], [(-75.423,39.404),(-75.423,39.467),(-75.29,39.488)],
    [(-74.85,39.456),(-75.0,39.54)],
]

GRID_COLOR = "#D3D3D3"
LINE_COLOR = "#333333"
W, H = 3661, 1653


def panel_c(ax):
    samples = [rmse_nam, rmse_equal, rmse_optimal, rmse_deep1, rmse_deep100, rmse_deep408]
    violin = pd.DataFrame(
        [(m, v) for m, vals in zip(models, samples) for v in vals], columns=["model", "rmse"]
    )
    # the box also gets the lowest and highest value, the thin violin tips are only its whisker
    box = pd.concat([
        violin,
        pd.DataFrame({"model": models, "rmse": rmse_lowest}),
        pd.DataFrame({"model": models, "rmse": rmse_highest}),
    ])

    ax.set_axisbelow(True)
    sns.violinplot(data=violin, x="model", y="rmse", order=models, ax=ax, fill=False, inner=None,
                   cut=1.5, bw_method=0.2, density_norm="area", width=0.9, color=LINE_COLOR, linewidth=0.9)
    sns.boxplot(data=box, x="model", y="rmse", order=models, ax=ax, width=0.105, whis=(0, 100),
                showcaps=False, showfliers=False, color="white", linecolor=LINE_COLOR, linewidth=0.9,
                medianprops={"linewidth": 2.0})

    ax.set_xlim(-0.592, 5.597)
    ax.set_ylim(0.455, 1.737)
    ax.set_yticks([0.5, 0.75, 1.0, 1.25, 1.5])
    ax.set_yticklabels(["0.50", "0.75", "1.00", "1.25", "1.50"])
    ax.yaxis.set_minor_locator(FixedLocator([0.625, 0.875, 1.125, 1.375, 1.625]))
    ax.grid(True, which="major", axis="y", color=GRID_COLOR, linewidth=1.1)
    ax.grid(True, which="minor", axis="y", color=GRID_COLOR, linewidth=0.65)
    ax.grid(True, which="major", axis="x", color=GRID_COLOR, linewidth=0.9)
    ax.tick_params(which="minor", length=0)
    ax.set_xlabel("")
    ax.set_ylabel("Surface wind speed RMSE (m/s)", fontsize=16.2)
    ax.yaxis.set_label_coords(-0.1335, 0.514)
    ax.text(0.028, 0.957, "(c)", transform=ax.transAxes, fontsize=18, ha="left", va="center")


def panel_d(ax):
    rows = []
    for lons, lats, cls in zip(grid_lons, grid_lats, grid_cls):
        rows += [(x, y, c.lower(), c.isupper()) for x, y, c in zip(lons, lats, cls)]
    points = pd.DataFrame(rows, columns=["lon", "lat", "ratio", "ringed"])

    for line in county_lines:
        xs, ys = zip(*line)
        ax.plot(xs, ys, color="#BEBEBE", linewidth=1.15, zorder=1, solid_joinstyle="round")
    xs, ys = zip(*state_border)
    ax.plot(xs, ys, color="black", linewidth=3.0, zorder=2, solid_joinstyle="round")

    palette = {"r": "#8B0000", "o": "#FF6347", "p": "#90EE90", "g": "#006400"}
    sizes = {"r": 58, "o": 20, "p": 20, "g": 58}
    sns.scatterplot(data=points, x="lon", y="lat", hue="ratio", size="ratio", palette=palette,
                    sizes=sizes, alpha=0.9, linewidth=0, legend=False, ax=ax, zorder=3)
    ringed = points[points["ringed"]]
    ax.scatter(ringed["lon"], ringed["lat"], s=60, facecolors="none", edgecolors="black",
               linewidths=1.7, zorder=4)

    ax.set_xlim(-80.894, -74.506)
    ax.set_ylim(39.404, 42.445)
    ax.set_xticks([-80, -79, -78, -77, -76, -75])
    ax.set_yticks([39.5, 40.0, 40.5, 41.0, 41.5, 42.0])
    ax.set_yticklabels(["39.5", "40.0", "40.5", "41.0", "41.5", "42.0"])
    ax.set_xlabel("")
    ax.set_ylabel("")
    ax.text(0.032, 0.957, "(d)", transform=ax.transAxes, fontsize=18, ha="left", va="center")
    ax.text(0.4915, -0.2505, "DeepAnEn 1 @ 100 v.s. AnEn_Optimal", transform=ax.transAxes,
            fontsize=16.2, ha="center", va="center")

    handles = [Line2D([], [], linestyle="none", marker="o", markeredgewidth=0, alpha=0.9,
                      color=palette[k], markersize=ms)
               for k, ms in zip("ropg", [7.6, 4.5, 4.5, 7.6])]
    ax.legend(handles, ratio_labels, ncol=4, frameon=False, loc="center", bbox_to_anchor=(0.504, -0.3405),
              fontsize=12.3, handletextpad=0.67, columnspacing=0.72, handlelength=1.5, borderpad=0)


def main():
    fig = plt.figure(figsize=(W / 300, H / 300), dpi=300)
    ax_c = fig.add_axes([270 / W, 1 - 1135 / H, 1296 / W, 1110 / H])
    ax_d = fig.add_axes([1862 / W, 1 - 1135 / H, 1772 / W, 1110 / H])

    panel_c(ax_c)
    panel_d(ax_d)

    for ax in [ax_c, ax_d]:
        ax.tick_params(which="major", direction="out", length=8, width=0.85, color="black",
                       labelsize=12.3, pad=2.0, left=True, bottom=True)
        for spine in ax.spines.values():
            spine.set_color("black")
            spine.set_linewidth(0.8)
    # x labels of the left panel run a little longer than the other tick labels
    plt.setp(ax_c.get_xticklabels(), rotation=45, ha="right", va="top", rotation_mode="anchor", fontsize=12.9)

    fig.savefig("out.png", dpi=300, facecolor="white")
    plt.close(fig)


if __name__ == "__main__":
    main()
